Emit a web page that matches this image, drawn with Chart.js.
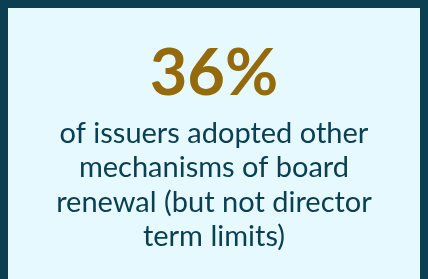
<!DOCTYPE html>
<html>
<head>
<meta charset="utf-8">
<script src="https://cdn.jsdelivr.net/npm/chart.js@4"></script>
<style>
  html, body { margin: 0; padding: 0; background: #fff; }
  .box {
    width: 412px; height: 271px;
    border: 8px solid #0b4052; border-bottom: none;
    background: #e6f9ff;
  }
</style>
</head>
<body>
<div class="box"><canvas id="stat" width="412" height="271"></canvas></div>
<script>
const statValue = [36];
const statUnit = '%';
const statLines = [
  'of issuers adopted other',
  'mechanisms of board',
  'renewal (but not director',
  'term limits)'
];

const ctx = document.getElementById('stat').getContext('2d');
new Chart(ctx, {
  type: 'bar',
  data: { labels: [], datasets: [] },
  options: {
    responsive: false,
    animation: false,
    layout: { padding: 0 },
    scales: { x: { display: false }, y: { display: false } },
    plugins: {
      legend: { display: false },
      tooltip: { enabled: false },
      title: {
        display: true,
        text: statValue[0] + statUnit,
        color: '#946a0b',
        font: { family: 'Lato', size: 65, weight: 'bold', lineHeight: 1 },
        padding: { top: 34, bottom: 9 }
      },
      subtitle: {
        display: true,
        text: statLines,
        color: '#0b4052',
        font: { family: 'Lato', size: 29, lineHeight: 1.19 },
        padding: 0
      }
    }
  }
});
</script>
</body>
</html>
